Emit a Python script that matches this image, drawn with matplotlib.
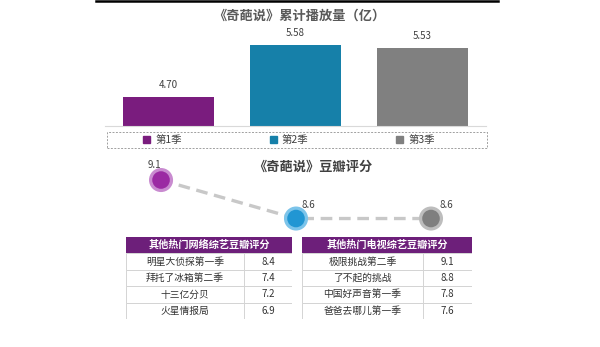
import matplotlib
matplotlib.use("Agg")
import matplotlib.pyplot as plt
from matplotlib.patches import Rectangle, Patch
from matplotlib.lines import Line2D

plt.rcParams['font.family'] = ['Noto Sans CJK SC', 'DejaVu Sans']

# data
seasons = ['第1季', '第2季', '第3季']
views = [4.70, 5.58, 5.53]
douban = [9.1, 8.6, 8.6]
colors = ['#7a1c7e', '#1680a9', '#808080']
core_colors = ['#9b2aa3', '#2196d3', '#7f7f7f']
halo_colors = ['#c98bd0', '#7cc4ea', '#bdbdbd']

web_title = '其他热门网络综艺豆瓣评分'
web_shows = ['明星大侦探第一季', '拜托了冰箱第二季', '十三亿分贝', '火星情报局']
web_scores = [8.4, 7.4, 7.2, 6.9]
tv_title = '其他热门电视综艺豆瓣评分'
tv_shows = ['极限挑战第二季', '了不起的挑战', '中国好声音第一季', '爸爸去哪儿第一季']
tv_scores = [9.1, 8.8, 7.8, 7.6]

W, H = 600, 347
fig = plt.figure(figsize=(6, 3.47), dpi=100)
fig.patch.set_facecolor('white')


def px_axes(x0, y0, x1, y1):
    # axes from pixel box (top-left origin)
    return fig.add_axes([x0 / W, 1 - y1 / H, (x1 - x0) / W, (y1 - y0) / H])


# top rule
fig.add_artist(Line2D([96 / W, 498 / W], [1 - 1 / H, 1 - 1 / H], color='black', lw=1.8))
fig.text(299 / W, 1 - 16 / H, '《奇葩说》累计播放量（亿）', ha='center', va='center',
         fontsize=9.5, fontweight='bold', color='#595959')

# bar chart
ax = px_axes(105, 30, 486, 125.5)
x = range(len(views))
ax.bar(x, views, width=0.71, color=colors, zorder=2)
for xi, v in zip(x, views):
    ax.annotate(f'{v:.2f}', (xi, v), xytext=(0, 5), textcoords='offset points',
                ha='center', va='bottom', fontsize=7, color='#404040')
ax.set_xlim(-0.5, 2.5)
ax.set_ylim(4.225, 5.83)
for s in ['top', 'left', 'right']:
    ax.spines[s].set_visible(False)
ax.spines['bottom'].set_color('#d9d9d9')
ax.set_xticks([])
ax.set_yticks([])
ax.patch.set_alpha(0)

# legend with dashed frame
fig.add_artist(Rectangle((107 / W, 1 - 148 / H), 380 / W, 16 / H, fill=False,
                         ec='#a0a0a0', lw=0.7, ls=(0, (2, 1.5))))
handles = [Patch(color=c, label=s) for c, s in zip(colors, seasons)]
leg = fig.legend(handles=handles, loc='center left', ncol=3,
                 bbox_to_anchor=(143 / W, 1 - 140 / H),
                 frameon=False, fontsize=7.5, handlelength=0.7, handleheight=0.7,
                 handletextpad=0.5, columnspacing=8.4, borderaxespad=0, borderpad=0)
for t in leg.get_texts():
    t.set_color('#404040')

fig.text(313 / W, 1 - 167 / H, '《奇葩说》豆瓣评分', ha='center', va='center',
         fontsize=9.5, fontweight='bold', color='#404040')

# douban score dots
ax2 = px_axes(110, 150, 480, 235)
ax2.plot(x, douban, color='#c8c8c8', lw=2.4, ls=(0, (3.5, 2)), zorder=1)
ax2.scatter(x, douban, s=300, color=halo_colors, zorder=2, linewidths=0)
ax2.scatter(x, douban, s=160, color=core_colors, zorder=3, linewidths=0)
offsets = [(-5, 11), (9, 10), (11, 10)]
for xi, v, off in zip(x, douban, offsets):
    ax2.annotate(f'{v}', (xi, v), xytext=off, textcoords='offset points',
                 ha='center', va='center', fontsize=7, color='#404040')
ax2.set_xlim(-0.378, 2.363)
ax2.set_ylim(8.386, 9.49)
ax2.axis('off')


# tables
def draw_table(box, title, shows, scores):
    t = px_axes(*box)
    n = len(shows)
    t.set_xlim(0, 1)
    t.set_ylim(n + 1, 0)
    split = 0.71
    t.add_patch(Rectangle((0, 0), 1, 1, color='#6d1f7a', lw=0))
    t.text(0.5, 0.5, title, ha='center', va='center', fontsize=7.3,
           fontweight='bold', color='white')
    for i, (name, sc) in enumerate(zip(shows, scores)):
        r = i + 1
        t.add_patch(Rectangle((0, r), 1, 1, fc='white', ec='#d4d4d4', lw=0.7))
        t.plot([split, split], [r, r + 1], color='#d4d4d4', lw=0.7)
        t.text(split / 2, r + 0.5, name, ha='center', va='center', fontsize=7,
               color='#333333')
        t.text((1 + split) / 2, r + 0.5, f'{sc}', ha='center', va='center',
               fontsize=7, color='#333333')
    t.axis('off')


draw_table((126, 237, 292, 319), web_title, web_shows, web_scores)
draw_table((302, 237, 472, 319), tv_title, tv_shows, tv_scores)

fig.savefig('out.png', dpi=100)
